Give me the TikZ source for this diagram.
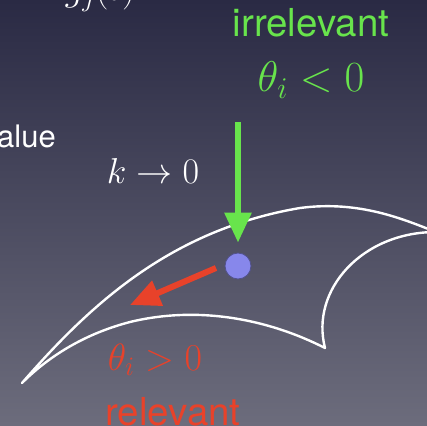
\RequirePackage{fix-cm}
\documentclass[tikz,border=0pt]{standalone}
\usepackage{fontspec}
\setsansfont{TeX Gyre Heros}
\usetikzlibrary{arrows.meta, positioning}
\definecolor{bgtop}{RGB}{42,42,68}
\definecolor{bgbottom}{RGB}{108,108,124}
\definecolor{flowgreen}{RGB}{104,228,76}
\definecolor{flowred}{RGB}{232,66,42}
\definecolor{dotblue}{RGB}{135,135,235}

\begin{document}
\begin{tikzpicture}[x=1pt, y=-1pt,
    flow/.style={line width=6pt, -{Triangle[width=26pt, length=30pt]}},
    txt/.style={inner sep=0pt, anchor=base},
    words/.style={txt, font=\fontsize{38.5}{40}\selectfont\sffamily},
    formula/.style={txt, font=\fontsize{38}{40}\selectfont}]
    % Background
    \useasboundingbox (0,0) rectangle (427,425);
    \clip (0,0) rectangle (427,425);
    \shade[top color=bgtop, bottom color=bgbottom] (0,0) rectangle (427,425);

    % Cropped slide text
    \node[formula, text=white] (head) at (100,1) {$g_j(t)$};
    \node[txt, text=white, anchor=base east, font=\fontsize{31}{33}\selectfont\sffamily] (valueword) at (56,147) {value};
    \node[formula, text=white, font=\fontsize{36}{38}\selectfont] (klimit) at (153,183) {$k\to 0$};

    % Surface
    \draw[white, line width=2.4pt, line join=round]
        (22,383) .. controls (90,305) and (170,230) .. (300,208)
        .. controls (360,200) and (405,220) .. (436,232)
        .. controls (362,232) and (310,290) .. (325,348)
        .. controls (270,320) and (200,305) .. (130,322)
        .. controls (80,335) and (45,360) .. (22,383) -- cycle;

    % Fixed point
    \node[circle, fill=dotblue, draw=dotblue!60!black, line width=0.8pt,
          minimum size=26pt, inner sep=0pt] (fixedpt) at (238,266) {};

    % Irrelevant direction
    \node[words, text=flowgreen] (irrel) at (311,37) {irrelevant};
    \node[formula, text=flowgreen, font=\fontsize{43}{46}\selectfont] (thetaneg) at (311,92) {$\theta_i<0$};
    \coordinate (gtop) at (238,122);
    \draw[flow, flowgreen, shorten >=10pt] (gtop) -- (fixedpt.north);

    % Relevant direction
    \coordinate (rstart) at (216,268);
    \coordinate (rend) at (130,305);
    \draw[flow, flowred] (rstart) -- (rend);
    \node[formula, text=flowred] (thetapos) at (155,370) {$\theta_i>0$};
    \node[words, text=flowred] (rel) at (173,425) {relevant};
\end{tikzpicture}
\end{document}
